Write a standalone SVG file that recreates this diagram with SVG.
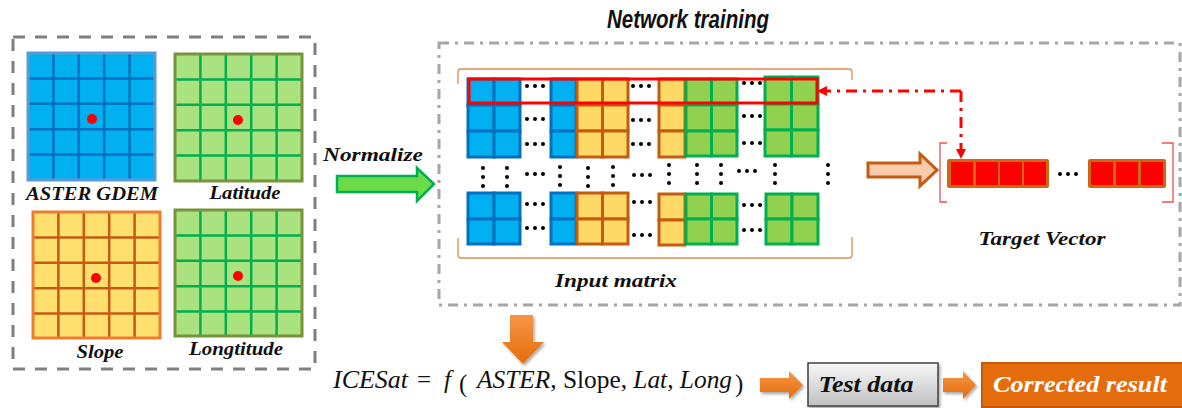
<svg xmlns="http://www.w3.org/2000/svg" width="1182" height="408" viewBox="0 0 1182 408">
<style>
.lbl{font-family:"Liberation Serif","Times New Roman",serif;font-weight:bold;font-style:italic;fill:#111}
.eq{font-family:"Liberation Serif","Times New Roman",serif;font-size:25px;fill:#111}
.it{font-style:italic}
.bl{fill:#00B0F0;stroke:#0070C0;stroke-width:3}
.ye{fill:#FFD966;stroke:#C55A11;stroke-width:3}
.gr{fill:#92D050;stroke:#00B050;stroke-width:3}
.dot{fill:#000}
</style>
<defs>
<path id="g5" d="M25.4 0V127M50.8 0V127M76.2 0V127M101.6 0V127M0 25.4H127M0 50.8H127M0 76.2H127M0 101.6H127" fill="none"/>
<g id="h3"><circle cx="-8" cy="0" r="2"/><circle cx="0" cy="0" r="2"/><circle cx="8" cy="0" r="2"/></g>
<g id="v3"><circle cx="0" cy="-9" r="2"/><circle cx="0" cy="0" r="2"/><circle cx="0" cy="9" r="2"/></g>
<marker id="rh" viewBox="0 0 10 10" refX="9" refY="5" markerWidth="3.5" markerHeight="3.5" orient="auto" markerUnits="strokeWidth">
<path d="M0 0L10 5L0 10Z" fill="#FF0000"/>
</marker>
<linearGradient id="og" x1="0" y1="0" x2="0" y2="1">
<stop offset="0" stop-color="#F79646"/><stop offset="1" stop-color="#E46C0A"/>
</linearGradient>
<linearGradient id="gg" x1="0" y1="0" x2="0" y2="1">
<stop offset="0" stop-color="#F8F8F8"/><stop offset="1" stop-color="#C0C0C0"/>
</linearGradient>
<filter id="sh" x="-20%" y="-20%" width="150%" height="150%">
<feDropShadow dx="1.5" dy="2" stdDeviation="1.5" flood-color="#000" flood-opacity="0.35"/>
</filter>
</defs>

<g id="inputs-panel">
<rect x="13" y="37" width="302" height="332" fill="none" stroke="#7F7F7F" stroke-width="3" stroke-dasharray="12 10"/>
</g>
<g id="aster-gdem">
<rect x="28" y="53" width="127" height="127" fill="#00B0F0"/>
<use href="#g5" transform="translate(28 53)" stroke="#0070C0" stroke-width="2.5"/>
<rect x="28" y="53" width="127" height="127" fill="none" stroke="#5B9BD5" stroke-width="3"/>
<circle cx="92" cy="119" r="5" fill="#FF0000"/>
<text class="lbl" x="92" y="200" font-size="19" text-anchor="middle" textLength="132" lengthAdjust="spacingAndGlyphs">ASTER GDEM</text>
</g>
<g id="latitude">
<rect x="175" y="54" width="127" height="127" fill="#A9E27F"/>
<use href="#g5" transform="translate(175 54)" stroke="#00B050" stroke-width="2.5"/>
<rect x="175" y="54" width="127" height="127" fill="none" stroke="#77933C" stroke-width="3"/>
<circle cx="238" cy="120" r="5" fill="#FF0000"/>
<text class="lbl" x="245" y="199" font-size="19" text-anchor="middle" textLength="71" lengthAdjust="spacingAndGlyphs">Latitude</text>
</g>
<g id="slope">
<rect x="33" y="212" width="127" height="126" fill="#FFDF6E"/>
<use href="#g5" transform="translate(33 212)" stroke="#C55A11" stroke-width="2.5"/>
<rect x="33" y="212" width="127" height="126" fill="none" stroke="#ED7D31" stroke-width="3"/>
<circle cx="96" cy="278" r="5" fill="#FF0000"/>
<text class="lbl" x="100" y="358" font-size="19" text-anchor="middle" textLength="47" lengthAdjust="spacingAndGlyphs">Slope</text>
</g>
<g id="longtitude">
<rect x="175" y="210" width="127" height="126" fill="#A9E27F"/>
<use href="#g5" transform="translate(175 210)" stroke="#00B050" stroke-width="2.5"/>
<rect x="175" y="210" width="127" height="126" fill="none" stroke="#77933C" stroke-width="3"/>
<circle cx="238" cy="276" r="5" fill="#FF0000"/>
<text class="lbl" x="236" y="355" font-size="19" text-anchor="middle" textLength="94" lengthAdjust="spacingAndGlyphs">Longtitude</text>
</g>

<g id="network-training">
<text x="688" y="28" font-family="'Liberation Sans',Arial,sans-serif" font-weight="bold" font-style="italic" font-size="26" text-anchor="middle" textLength="162" lengthAdjust="spacingAndGlyphs" fill="#111">Network training</text>
<path d="M439 43H1180V305H439Z" fill="none" stroke="#A6A6A6" stroke-width="3" stroke-dasharray="10 6 3 6"/>
</g>

<g id="input-matrix">
<path d="M458 84V72Q458 69 461 69H849Q852 69 852 72V80M458 238V255Q458 258 461 258H849Q852 258 852 255V237" fill="none" stroke="#E08A4A" stroke-width="1.3"/>
<rect class="bl" x="468" y="79" width="26" height="26"/><rect class="bl" x="494" y="79" width="26" height="26"/>
<rect class="bl" x="468" y="105" width="26" height="26"/><rect class="bl" x="494" y="105" width="26" height="26"/>
<rect class="bl" x="468" y="131" width="26" height="26"/><rect class="bl" x="494" y="131" width="26" height="26"/>
<rect class="bl" x="551" y="79" width="25" height="26"/><rect class="bl" x="551" y="105" width="25" height="26"/><rect class="bl" x="551" y="131" width="25" height="26"/>
<rect class="ye" x="577" y="79" width="25.5" height="26"/><rect class="ye" x="602.5" y="79" width="25.5" height="26"/>
<rect class="ye" x="577" y="105" width="25.5" height="26"/><rect class="ye" x="602.5" y="105" width="25.5" height="26"/>
<rect class="ye" x="577" y="131" width="25.5" height="26"/><rect class="ye" x="602.5" y="131" width="25.5" height="26"/>
<rect class="ye" x="659" y="79" width="26" height="26"/><rect class="ye" x="659" y="105" width="26" height="26"/><rect class="ye" x="659" y="131" width="26" height="26"/>
<rect class="gr" x="686" y="79" width="25.5" height="26"/><rect class="gr" x="711.5" y="79" width="25.5" height="26"/>
<rect class="gr" x="686" y="105" width="25.5" height="26"/><rect class="gr" x="711.5" y="105" width="25.5" height="26"/>
<rect class="gr" x="686" y="131" width="25.5" height="25"/><rect class="gr" x="711.5" y="131" width="25.5" height="25"/>
<rect class="gr" x="765" y="77" width="26.5" height="27"/><rect class="gr" x="791.5" y="77" width="26.5" height="27"/>
<rect class="gr" x="765" y="104" width="26.5" height="26"/><rect class="gr" x="791.5" y="104" width="26.5" height="26"/>
<rect class="gr" x="765" y="130" width="26.5" height="26"/><rect class="gr" x="791.5" y="130" width="26.5" height="26"/>
<rect class="bl" x="468" y="193" width="26" height="26"/><rect class="bl" x="494" y="193" width="26" height="26"/>
<rect class="bl" x="468" y="219" width="26" height="25"/><rect class="bl" x="494" y="219" width="26" height="25"/>
<rect class="bl" x="551" y="193" width="25" height="26"/><rect class="bl" x="551" y="219" width="25" height="25"/>
<rect class="ye" x="577" y="193" width="25.5" height="26"/><rect class="ye" x="602.5" y="193" width="25.5" height="26"/>
<rect class="ye" x="577" y="219" width="25.5" height="25"/><rect class="ye" x="602.5" y="219" width="25.5" height="25"/>
<rect class="ye" x="659" y="194" width="26" height="26"/><rect class="ye" x="659" y="220" width="26" height="25"/>
<rect class="gr" x="686" y="194" width="25.5" height="25"/><rect class="gr" x="711.5" y="194" width="25.5" height="25"/>
<rect class="gr" x="686" y="219" width="25.5" height="25"/><rect class="gr" x="711.5" y="219" width="25.5" height="25"/>
<rect class="gr" x="766" y="194" width="26" height="25"/><rect class="gr" x="792" y="194" width="26" height="25"/>
<rect class="gr" x="766" y="219" width="26" height="25"/><rect class="gr" x="792" y="219" width="26" height="25"/>
<g class="dot">
<use href="#h3" x="535" y="86"/><use href="#h3" x="535" y="119"/><use href="#h3" x="535" y="144"/>
<use href="#h3" x="641" y="86"/><use href="#h3" x="641" y="120"/><use href="#h3" x="641" y="144"/>
<use href="#h3" x="752" y="83"/><use href="#h3" x="752" y="116"/><use href="#h3" x="752" y="143"/>
<use href="#v3" x="483" y="177"/><use href="#v3" x="507" y="177"/><use href="#h3" x="535" y="174"/>
<use href="#v3" x="560" y="176"/><use href="#v3" x="588" y="177"/><use href="#v3" x="613" y="176"/><use href="#h3" x="642" y="175"/>
<use href="#v3" x="669" y="174"/><use href="#v3" x="697" y="174"/><use href="#v3" x="721" y="174"/><use href="#h3" x="747" y="171"/>
<use href="#v3" x="775" y="174"/><use href="#v3" x="828" y="174"/>
<use href="#h3" x="535" y="204"/><use href="#h3" x="535" y="228"/>
<use href="#h3" x="642" y="202"/><use href="#h3" x="642" y="235"/>
<use href="#h3" x="752" y="205"/><use href="#h3" x="752" y="230"/>
</g>
<rect x="469" y="79" width="348" height="24" fill="none" stroke="#FF0000" stroke-width="3"/>
<text class="lbl" x="616" y="287" font-size="19" text-anchor="middle" textLength="122" lengthAdjust="spacingAndGlyphs">Input matrix</text>
</g>

<g id="target-vector">
<path d="M947 143H940V202H947M1162 143H1173V202H1162" fill="none" stroke="#F05050" stroke-width="1.3"/>
<rect x="947" y="159" width="102" height="29" rx="2" fill="#D0680F"/>
<rect x="951" y="162" width="22" height="23" fill="#FF0000"/>
<rect x="976" y="162" width="22" height="23" fill="#FF0000"/>
<rect x="1000" y="162" width="22" height="23" fill="#FF0000"/>
<rect x="1024" y="162" width="22" height="23" fill="#FF0000"/>
<use href="#h3" x="1068" y="174" class="dot"/>
<rect x="1088" y="159" width="78" height="29" rx="2" fill="#D0680F"/>
<rect x="1091" y="162" width="22" height="23" fill="#FF0000"/>
<rect x="1116" y="162" width="22" height="23" fill="#FF0000"/>
<rect x="1141" y="162" width="22" height="23" fill="#FF0000"/>
<text class="lbl" x="1042" y="245" font-size="19" text-anchor="middle" textLength="127" lengthAdjust="spacingAndGlyphs">Target Vector</text>
</g>

<g id="equation">
<text class="eq it" x="333" y="388" textLength="75" lengthAdjust="spacingAndGlyphs">ICESat</text>
<text class="eq" x="417" y="388">=</text>
<text class="eq it" x="444" y="388">f</text>
<text class="eq" x="459" y="392" font-size="34">(</text>
<text class="eq" x="477" y="388" textLength="255" lengthAdjust="spacingAndGlyphs"><tspan class="it">ASTER</tspan>, Slope, <tspan class="it">Lat</tspan>, <tspan class="it">Long</tspan></text>
<text class="eq" x="735" y="392" font-size="34">)</text>
</g>

<g id="test-data">
<rect x="808" y="363" width="130" height="43" fill="url(#gg)" stroke="#404040" stroke-width="1.5" filter="url(#sh)"/>
<text class="lbl" x="866" y="392" font-size="23" text-anchor="middle" textLength="95" lengthAdjust="spacingAndGlyphs">Test data</text>
</g>

<g id="corrected-result">
<rect x="982" y="363" width="205" height="44" fill="#E46C0A" stroke="#C55A11" stroke-width="2" filter="url(#sh)"/>
<text class="lbl" x="1080" y="392" font-size="23" text-anchor="middle" textLength="174" lengthAdjust="spacingAndGlyphs" style="fill:#fff">Corrected result</text>
</g>

<g id="connectors">
<text class="lbl" x="323" y="161" font-size="19" textLength="100" lengthAdjust="spacingAndGlyphs">Normalize</text>
<path d="M337 176H417V168L434 184L417 201V192H337Z" fill="#6CDB4A" stroke="#00B050" stroke-width="2.5"/>
<path d="M868 163H920V154L937 170L920 186V177H868Z" fill="#F8CBAD" stroke="#C55A11" stroke-width="3"/>
<path d="M961 91H818" fill="none" stroke="#FF0000" stroke-width="3" stroke-dasharray="11 6 3 6" marker-end="url(#rh)"/>
<path d="M961 91V158" fill="none" stroke="#FF0000" stroke-width="3" stroke-dasharray="11 6 3 6" marker-end="url(#rh)"/>
<path d="M510 315H533V342H544L523 364L502 342H510Z" fill="url(#og)" filter="url(#sh)"/>
<path d="M760 378H789V371L803 385L789 399V392H760Z" fill="url(#og)" filter="url(#sh)"/>
<path d="M943 378H963V371L976 385L963 399V392H943Z" fill="url(#og)" filter="url(#sh)"/>
</g>
</svg>
